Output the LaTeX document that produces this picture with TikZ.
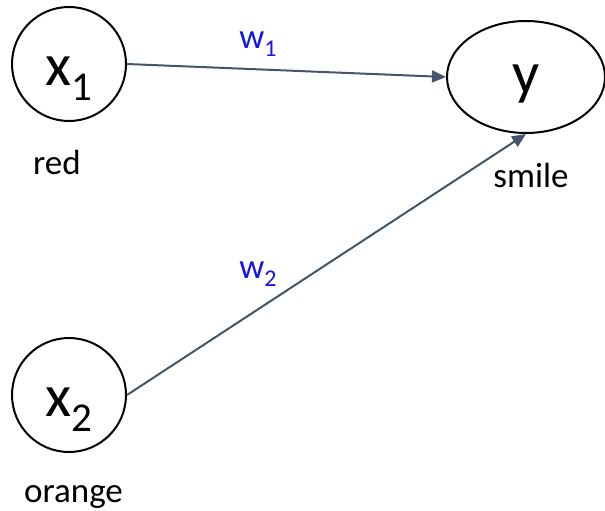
\documentclass[tikz,border=0pt]{standalone}
\usepackage{fontspec}
\setmainfont{Carlito}
\usetikzlibrary{shapes.geometric,arrows.meta,positioning}

\definecolor{edgegray}{RGB}{68,84,106}
\definecolor{weightblue}{RGB}{20,20,240}

% big variable with subscript, weight with subscript
\newcommand{\bigvar}[2]{\fontsize{60}{60}\selectfont #1\raisebox{-15pt}{\fontsize{41}{41}\selectfont #2}}
\newcommand{\wlabel}[1]{\fontsize{35}{35}\selectfont w\raisebox{-8pt}{\fontsize{24}{24}\selectfont #1}}

\begin{document}
\begin{tikzpicture}[x=1pt,y=-1pt,
  unit/.style={circle,draw,line width=2pt,minimum size=114pt,inner sep=0pt,
    text height=57pt,text depth=15pt},
  outunit/.style={ellipse,draw,line width=2pt,minimum width=158pt,minimum height=112pt,inner sep=0pt,
    text height=47pt,text depth=15pt},
  caption/.style={font=\fontsize{35}{35}\selectfont,inner sep=0pt},
  weight/.style={text=weightblue,inner sep=0pt},
  conn/.style={draw=edgegray,line width=2pt,-{Triangle[length=14pt,width=12pt]}}]
\useasboundingbox (0,0) rectangle (605,511);

% Units
\node[unit] (x1) at (69,64) {\bigvar{x}{1}};
\node[unit] (x2) at (69,395) {\bigvar{x}{2}};
\node[outunit] (y) at (526,77) {\fontsize{60}{60}\selectfont y};

% Captions
\node[caption] (red) at (57,162) {red};
\node[caption] (smile) at (531,175.5) {smile};
\node[caption] (orange) at (73.5,497.5) {orange};

% Weights
\node[weight] (w1) at (258,44.5) {\wlabel{1}};
\node[weight] (w2) at (258,274.5) {\wlabel{2}};

% Connections
\draw[conn] (x1.east) -- (y.west);
\draw[conn] (x2.east) -- (y.south);
\end{tikzpicture}
\end{document}
